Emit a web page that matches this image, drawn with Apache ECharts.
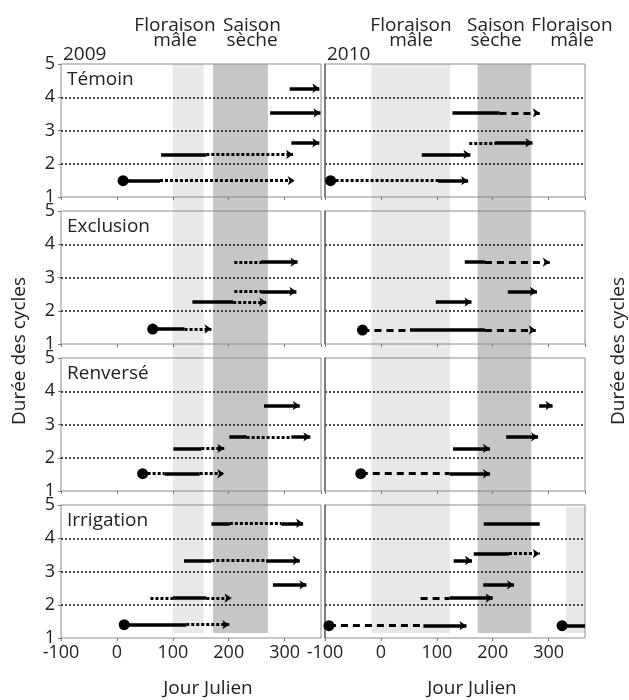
<!DOCTYPE html>
<html>
<head>
<meta charset="utf-8">
<script src="https://cdn.jsdelivr.net/npm/echarts@6/dist/echarts.min.js"></script>
<style>
html, body { margin: 0; background: #fff; }
#chart { width: 629px; height: 700px; }
</style>
</head>
<body>
<div id="chart"></div>
<script>
// segment codes: S = solid, P = pointillé serré, D = tirets
var panelNames = ['Témoin', 'Exclusion', 'Renversé', 'Irrigation'];
var years = ['2009', '2010'];
var yTicks = [1, 2, 3, 4, 5];

var temoin2009 = [
	{ y: 4.27, pts: [309, 362], seg: 'S', arrow: true },
	{ y: 3.53, pts: [274, 364], seg: 'S', arrow: true },
	{ y: 2.63, pts: [312, 362], seg: 'S', arrow: true },
	{ y: 2.28, pts: [79, 160, 315], seg: 'SP', arrow: true },
	{ y: 1.49, pts: [11, 77, 318], seg: 'SP', dot: true, arrow: true }
];
var temoin2010 = [
	{ y: 3.53, pts: [128, 212, 284], seg: 'SD', arrow: true },
	{ y: 2.63, pts: [158, 204, 271], seg: 'PS', arrow: true },
	{ y: 2.28, pts: [73, 160], seg: 'S', arrow: true },
	{ y: 1.49, pts: [-90, 102, 156], seg: 'PS', dot: true, arrow: true }
];
var exclusion2009 = [
	{ y: 3.46, pts: [210, 258, 323], seg: 'PS', arrow: true },
	{ y: 2.58, pts: [210, 258, 321], seg: 'PS', arrow: true },
	{ y: 2.26, pts: [135, 208, 267], seg: 'SP', arrow: true },
	{ y: 1.45, pts: [64, 121, 169], seg: 'SP', dot: true, arrow: true }
];
var exclusion2010 = [
	{ y: 3.46, pts: [150, 186, 302], seg: 'SD', arrow: true },
	{ y: 2.58, pts: [227, 279], seg: 'S', arrow: true },
	{ y: 2.26, pts: [98, 162], seg: 'S', arrow: true },
	{ y: 1.42, pts: [-33, 52, 186, 277], seg: 'DSD', dot: true, arrow: true }
];
var renverse2009 = [
	{ y: 3.57, pts: [263, 327], seg: 'S', arrow: true },
	{ y: 2.63, pts: [201, 232, 312, 346], seg: 'SPS', arrow: true },
	{ y: 2.28, pts: [101, 151, 192], seg: 'SP', arrow: true },
	{ y: 1.52, pts: [46, 85, 148, 192], seg: 'PSP', dot: true, arrow: true }
];
var renverse2010 = [
	{ y: 3.57, pts: [283, 307], seg: 'S', arrow: true },
	{ y: 2.63, pts: [224, 281], seg: 'S', arrow: true },
	{ y: 2.28, pts: [129, 195], seg: 'S', arrow: true },
	{ y: 1.52, pts: [-36, 123, 195], seg: 'DS', dot: true, arrow: true }
];
var irrigation2009 = [
	{ y: 4.45, pts: [169, 202, 294, 333], seg: 'SPS', arrow: true },
	{ y: 3.33, pts: [120, 169, 267, 327], seg: 'SPS', arrow: true },
	{ y: 2.6, pts: [279, 339], seg: 'S', arrow: true },
	{ y: 2.2, pts: [60, 100, 160, 205], seg: 'PSP', arrow: true },
	{ y: 1.4, pts: [13, 124, 201], seg: 'SP', dot: true, arrow: true }
];
var irrigation2010 = [
	{ y: 4.45, pts: [184, 284], seg: 'S', arrow: false },
	{ y: 3.54, pts: [166, 229, 284], seg: 'SP', arrow: true },
	{ y: 3.33, pts: [130, 163], seg: 'S', arrow: true },
	{ y: 2.6, pts: [183, 238], seg: 'S', arrow: true },
	{ y: 2.2, pts: [71, 123, 200], seg: 'DS', arrow: true },
	{ y: 1.37, pts: [-93, 76, 153], seg: 'DS', dot: true, arrow: true },
	{ y: 1.37, pts: [324, 365], seg: 'S', dot: true, arrow: false }
];

// periods (jour julien)
var floraison2009 = [100, 155];
var saison2009 = [172, 270];
var floraison2010 = [-17, 124];
var saison2010 = [173, 269];
var floraison2010fin = [331, 365]; // only visible in the Irrigation panel

var panels = [
	[temoin2009, temoin2010],
	[exclusion2009, exclusion2010],
	[renverse2009, renverse2010],
	[irrigation2009, irrigation2010]
];

var chart = echarts.init(document.getElementById('chart'));
var FONT = '"Open Sans", sans-serif';
var TXT = '#222';
var colLeft = [61, 325];
var colW = 260;
var rowTop = [64, 211, 358, 505];
var rowH = 133;
var bandTop = 64, bandH = 569;

var segStyle = {
	S: { type: 'solid', width: 3.5 },
	P: { type: [3, 2], width: 3.2 },
	D: { type: [7, 5], width: 3 }
};

var grids = [], xAxes = [], yAxes = [], series = [];

// background grids for the seasonal bands (continuous across panels)
for (var c = 0; c < 2; c++) {
	grids.push({ left: colLeft[c], top: bandTop, width: colW, height: bandH, show: false });
	xAxes.push({ gridIndex: c, type: 'value', min: -100, max: 365, show: false });
	yAxes.push({ gridIndex: c, type: 'value', min: 0, max: 1, show: false });
}
var irrTop = (bandTop + bandH - 507) / bandH;
var bands = [
	[[floraison2009[0], floraison2009[1], 0, 1, 0], [saison2009[0], saison2009[1], 0, 1, 1]],
	[[floraison2010[0], floraison2010[1], 0, 1, 0], [saison2010[0], saison2010[1], 0, 1, 1],
	 [floraison2010fin[0], floraison2010fin[1], 0, irrTop, 0]]
];
for (var c = 0; c < 2; c++) {
	series.push({
		type: 'custom',
		xAxisIndex: c,
		yAxisIndex: c,
		z: -1,
		silent: true,
		encode: { x: [0, 1], y: [2, 3] },
		data: bands[c],
		renderItem: function(params, api) {
			var a = api.coord([api.value(0), api.value(3)]);
			var b = api.coord([api.value(1), api.value(2)]);
			return {
				type: 'rect',
				shape: { x: a[0], y: a[1], width: b[0] - a[0], height: b[1] - a[1] },
				style: { fill: api.value(4) ? '#c6c6c6' : '#e8e8e8' }
			};
		}
	});
}

for (var p = 0; p < 4; p++) {
	for (var c = 0; c < 2; c++) {
		var gi = grids.length;
		var bottomRow = p === 3;
		grids.push({
			left: colLeft[c], top: rowTop[p], width: colW, height: rowH,
			show: true, borderColor: '#8c8c8c', borderWidth: 1
		});
		xAxes.push({
			gridIndex: gi, type: 'value', min: -100, max: 365, interval: 100,
			axisLine: { show: false, onZero: false },
			axisTick: { show: true, length: 3, lineStyle: { color: '#777' } },
			splitLine: { show: false },
			axisLabel: {
				show: bottomRow, color: TXT, fontSize: 18, fontFamily: FONT, margin: 6,
				showMaxLabel: false
			}
		});
		yAxes.push({
			gridIndex: gi, type: 'value', min: yTicks[0], max: yTicks[yTicks.length - 1], interval: 1,
			axisLine: { show: c === 1, onZero: false, lineStyle: { color: '#666', width: 1.5 } },
			axisTick: { show: c === 0, length: 3, lineStyle: { color: '#777' } },
			axisLabel: { show: c === 0, color: TXT, fontSize: 18, fontFamily: FONT, margin: 6 },
			splitLine: {
				show: true, showMinLine: false, showMaxLine: false,
				lineStyle: { color: '#111', type: [2, 2], width: 1.5 }
			}
		});

		var rows = panels[p][c];
		var plain = [], arrowed = [], dots = [];
		rows.forEach(function(r) {
			for (var i = 0; i < r.seg.length; i++) {
				var item = {
					coords: [[r.pts[i], r.y], [r.pts[i + 1], r.y]],
					lineStyle: segStyle[r.seg[i]]
				};
				if (i === r.seg.length - 1 && r.arrow) arrowed.push(item);
				else plain.push(item);
			}
			if (r.dot) dots.push([r.pts[0], r.y]);
		});
		series.push({
			type: 'lines', coordinateSystem: 'cartesian2d', xAxisIndex: gi, yAxisIndex: gi,
			symbol: ['none', 'none'], silent: true,
			lineStyle: { color: '#000', opacity: 1 },
			data: plain
		});
		series.push({
			type: 'lines', coordinateSystem: 'cartesian2d', xAxisIndex: gi, yAxisIndex: gi,
			symbol: ['none', 'arrow'], symbolSize: 7, silent: true,
			lineStyle: { color: '#000', opacity: 1 },
			data: arrowed
		});
		series.push({
			type: 'scatter', xAxisIndex: gi, yAxisIndex: gi,
			symbol: 'circle', symbolSize: 11, silent: true,
			itemStyle: { color: '#000', opacity: 1 },
			data: dots
		});
	}
}

function txt(x, y, s, opts) {
	var o = {
		type: 'text', x: x, y: y, silent: true,
		style: {
			text: s, fill: TXT, font: '19px ' + FONT,
			textAlign: 'center', textVerticalAlign: 'middle'
		}
	};
	if (opts) {
		for (var k in opts) o[k] = opts[k];
	}
	return o;
}

var graphics = [
	txt(175, 26, 'Floraison'), txt(175, 41, 'mâle'),
	txt(252, 26, 'Saison'), txt(252, 41, 'sèche'),
	txt(411, 26, 'Floraison'), txt(411, 41, 'mâle'),
	txt(496, 26, 'Saison'), txt(496, 41, 'sèche'),
	txt(572, 26, 'Floraison'), txt(572, 41, 'mâle'),
	txt(208, 689, 'Jour Julien'), txt(472, 689, 'Jour Julien'),
	txt(20, 351, 'Durée des cycles', { rotation: Math.PI / 2 }),
	txt(619, 351, 'Durée des cycles', { rotation: Math.PI / 2 })
];
years.forEach(function(yr, c) {
	var g = txt(colLeft[c] + 2, 55, yr);
	g.style.textAlign = 'left';
	graphics.push(g);
});
panelNames.forEach(function(n, p) {
	var g = txt(67, rowTop[p] + 16, n);
	g.style.textAlign = 'left';
	graphics.push(g);
});

chart.setOption({
	backgroundColor: '#fff',
	animation: false,
	grid: grids,
	xAxis: xAxes,
	yAxis: yAxes,
	series: series,
	graphic: { elements: graphics }
});
</script>
</body>
</html>
